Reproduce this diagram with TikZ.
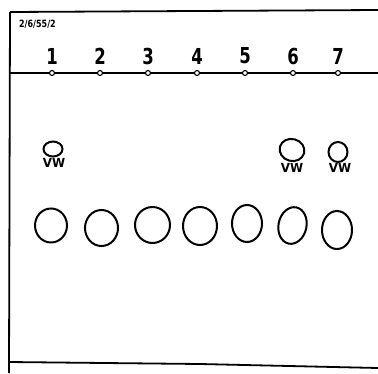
\documentclass[tikz,border=0pt]{standalone}
\usepackage{fontspec}
\setmainfont{DejaVu Sans}
\newfontfamily\heavy{DejaVu Sans Bold}
\begin{document}
\begin{tikzpicture}[x=1pt,y=-1pt,
  frame/.style={line width=1.8pt,black},
  spot/.style={line width=2pt,black},
  lanenum/.style={font=\heavy\fontsize{22}{22}\selectfont,xscale=0.75,inner sep=0pt},
  vw/.style={font=\heavy\fontsize{12.5}{12.5}\selectfont,xscale=0.95,inner sep=0pt},
  dot/.style={circle,draw,line width=1.1pt,fill=white,inner sep=0pt,minimum size=5pt}]
\useasboundingbox (0,0) rectangle (378,373);
% frame
\draw[frame] (10,12) -- (378,10);
\draw[frame] (10,12) -- (9,373);
\draw[frame] (9,362) -- (200,364) -- (378,368);
\draw[frame,line width=1.4pt] (9,73) -- (378,73);
% label
\node[font=\heavy\fontsize{10}{10}\selectfont,xscale=0.8,anchor=west,inner sep=0pt] (lab) at (19,24) {2/6/55/2};
% lane numbers and origin dots
\foreach \i/\x in {1/52,2/100,3/148,4/197,5/245,6/293,7/338}{
  \node[lanenum] (n\i) at (\x,56) {\i};
  \node[dot] (d\i) at (\x,73) {};
}
% small spots with VW
\draw[spot] (53,149) ellipse [x radius=9.5, y radius=7.5];
\node[vw] (vw1) at (54,163) {VW};
\draw[spot,rotate around={-15:(292,150)}] (292,150) ellipse [x radius=12.5, y radius=11];
\node[vw] (vw6) at (292,168) {VW};
\draw[spot] (338,152) ellipse [x radius=9.5, y radius=10];
\node[vw] (vw7) at (340,168) {VW};
% large spots
\draw[spot] (51,225.5) ellipse [x radius=16, y radius=17];
\draw[spot] (101.5,228) ellipse [x radius=16.5, y radius=18];
\draw[spot] (152.5,225) ellipse [x radius=17.5, y radius=18];
\draw[spot] (200,226) ellipse [x radius=17, y radius=19];
\draw[spot] (247,223.5) ellipse [x radius=15, y radius=18.5];
\draw[spot,rotate around={-12:(292.5,225.5)}] (292.5,225.5) ellipse [x radius=14, y radius=18.5];
\draw[spot] (337,230) ellipse [x radius=15, y radius=19];
\end{tikzpicture}
\end{document}
